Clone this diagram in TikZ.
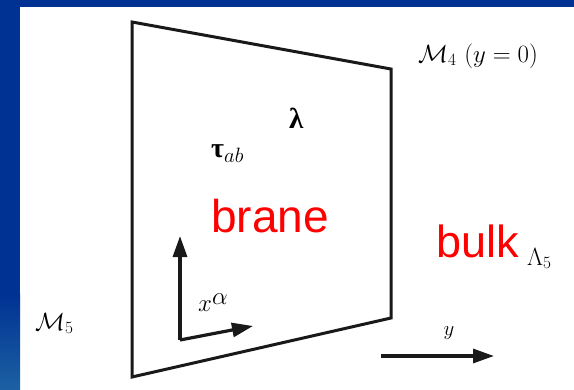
\documentclass[tikz,border=0pt]{standalone}
\usepackage{fontspec}
\usepackage{amsmath}
\newfontfamily\arialf{Liberation Sans}
\newfontfamily\timesf{Liberation Serif}
\usetikzlibrary{arrows.meta}
\definecolor{bgblue}{RGB}{0,50,148}
\definecolor{bgblue2}{RGB}{28,96,162}
\definecolor{bred}{RGB}{255,0,0}
\tikzset{
  sheet/.style={line width=3pt, line join=miter, draw=black!90},
  axis/.style={line width=3.2pt, draw=black!90, -{Triangle[length=21pt,width=14pt]}},
  lbl/.style={inner sep=0pt, anchor=base west},
  bigred/.style={inner sep=0pt, anchor=base west, text=bred, font=\arialf\fontsize{46}{50}\selectfont},
  mlbl/.style={inner sep=0pt, anchor=base west, font=\fontsize{26}{30}\selectfont},
}
\begin{document}
\begin{tikzpicture}[x=1pt,y=-1pt]
\useasboundingbox (0,0) rectangle (574,389);
% background frame
\fill[bgblue] (0,0) rectangle (574,7);
\fill[bgblue] (0,0) rectangle (20,295);
\shade[top color=bgblue, bottom color=bgblue2] (0,294.5) rectangle (20,389);
% brane sheet
\coordinate (tl) at (132,22);
\coordinate (tr) at (391,69);
\coordinate (br) at (391,318);
\coordinate (bl) at (132,377);
\draw[sheet] (tl) -- (tr) -- (br) -- (bl) -- cycle;
% labels
\node[mlbl] (m4) at (418,62) {$\mathcal{M}_4\ (y=0)$};
\node[mlbl] (m5) at (35,330) {$\mathcal{M}_5$};
\node[lbl, font=\timesf\bfseries\fontsize{29}{30}\selectfont] (lam) at (289,128) {λ};
\node[lbl, font=\fontsize{28}{30}\selectfont] (tau) at (211,157) {{\timesf\bfseries τ}$_{ab}$};
\node[bigred] (brane) at (211,232) {brane};
\node[bigred, font=\arialf\fontsize{45}{50}\selectfont] (bulk) at (436,257) {bulk};
\node[mlbl, font=\fontsize{24}{28}\selectfont] (L5) at (527,265) {$\Lambda_5$};
% brane axes
\coordinate (o) at (180,340);
\coordinate (up) at (180,236);
\coordinate (rt) at (253,326);
\draw[axis] (o) -- (up);
\draw[axis] (o) -- (rt);
\node[mlbl, font=\fontsize{25}{28}\selectfont] (xa) at (198,311) {$x$\raisebox{7pt}{\fontsize{23}{26}\selectfont$\alpha$}};
% bulk axis
\coordinate (y0) at (381,356);
\coordinate (y1) at (494,356);
\draw[axis] (y0) -- (y1);
\node[mlbl, font=\fontsize{22}{26}\selectfont, anchor=base] (ylab) at (449,335) {$y$};
\end{tikzpicture}
\end{document}
